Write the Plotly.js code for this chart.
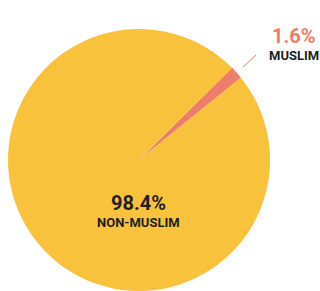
<!DOCTYPE html>
<html>
<head>
<meta charset="utf-8">
<script src="https://cdn.plot.ly/plotly-3.0.1.min.js"></script>
<style>html,body{margin:0;padding:0;background:#fff;overflow:hidden;}#chart{width:320px;height:291px;}</style>
</head>
<body>
<div id="chart"></div>
<script>
const categories = ["MUSLIM", "NON-MUSLIM"];
const shares = [1.6, 98.4];
const colors = ["#EE7D6B", "#F9C23D"];
const labelText = ["1.6%", "98.4%"];

const F = "Roboto, 'Noto Sans', sans-serif";

const data = [{
  type: "pie",
  labels: categories,
  values: shares,
  sort: false,
  direction: "clockwise",
  rotation: 45.3,
  marker: {colors: colors, line: {width: 0}},
  textinfo: "none",
  hoverinfo: "none",
  showlegend: false,
  domain: {x: [0.025, 0.84375], y: [0, 0.9003]}
}];

const layout = {
  width: 320, height: 291,
  margin: {l: 0, r: 0, t: 0, b: 0},
  paper_bgcolor: "#fff",
  showlegend: false,
  shapes: [{
    type: "line", xref: "paper", yref: "paper",
    x0: 243/320, y0: 1 - 67/291, x1: 256/320, y1: 1 - 55/291,
    line: {color: colors[0], width: 1}
  }],
  annotations: [
    {text: "<b>" + labelText[0] + "</b>", xref: "paper", yref: "paper", x: 294/320, y: 1 - 36/291,
     showarrow: false, font: {family: F, size: 20, color: colors[0]}, xanchor: "center", yanchor: "middle", borderpad: 0},
    {text: "<b>" + categories[0] + "</b>", xref: "paper", yref: "paper", x: 294/320, y: 1 - 56/291,
     showarrow: false, font: {family: F, size: 13, color: "#231F20"}, xanchor: "center", yanchor: "middle", borderpad: 0},
    {text: "<b>" + labelText[1] + "</b>", xref: "paper", yref: "paper", x: 138/320, y: 1 - 203/291,
     showarrow: false, font: {family: F, size: 20, color: "#231F20"}, xanchor: "center", yanchor: "middle", borderpad: 0},
    {text: "<b>" + categories[1] + "</b>", xref: "paper", yref: "paper", x: 138/320, y: 1 - 222/291,
     showarrow: false, font: {family: F, size: 13, color: "#231F20"}, xanchor: "center", yanchor: "middle", borderpad: 0}
  ]
};

Plotly.newPlot("chart", data, layout, {displayModeBar: false, staticPlot: true});
</script>
</body>
</html>
